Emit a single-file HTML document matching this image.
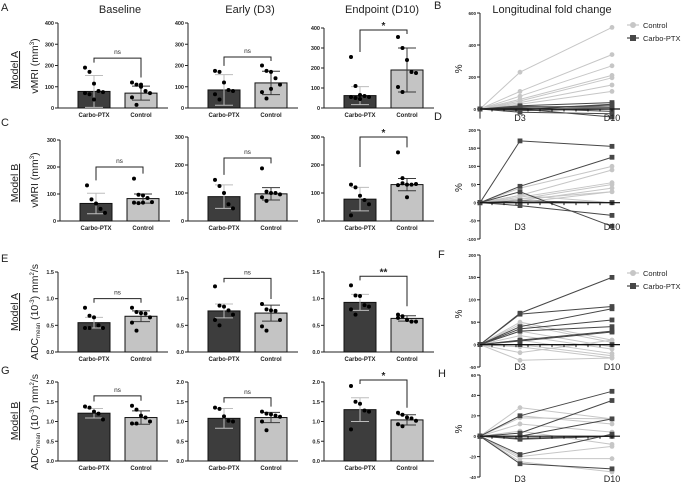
<!DOCTYPE html>
<html><head><meta charset="utf-8"><style>
body{margin:0;background:#fff;}
svg{display:block;font-family:"Liberation Sans",Arial,sans-serif;}
</style></head><body>
<svg id="fig" width="685" height="484" viewBox="0 0 685 484" xmlns="http://www.w3.org/2000/svg">
<g font-size="11" fill="#222">
<text x="1" y="11">A</text>
<text x="1" y="126">C</text>
<text x="1" y="262">E</text>
<text x="1" y="374">G</text>
<text x="434" y="9">B</text>
<text x="434" y="120">D</text>
<text x="438" y="258">F</text>
<text x="438" y="377">H</text>
</g>
<g font-size="11" fill="#222" text-anchor="middle">
<text x="120" y="13">Baseline</text>
<text x="250" y="13">Early (D3)</text>
<text x="382" y="13">Endpoint (D10)</text>
<text x="552" y="13">Longitudinal fold change</text>
</g>
<g fill="#222" font-size="10.5">
<text transform="translate(18,70) rotate(-90)" text-anchor="middle" text-decoration="underline">Model A</text>
<text transform="translate(18,183) rotate(-90)" text-anchor="middle" text-decoration="underline">Model B</text>
<text transform="translate(18,312) rotate(-90)" text-anchor="middle" text-decoration="underline">Model A</text>
<text transform="translate(18,421) rotate(-90)" text-anchor="middle" text-decoration="underline">Model B</text>
<text transform="translate(38,66) rotate(-90)" text-anchor="middle">vMRI (mm<tspan font-size="6" dy="-4">3</tspan><tspan dy="4">)</tspan></text>
<text transform="translate(38,180) rotate(-90)" text-anchor="middle">vMRI (mm<tspan font-size="6" dy="-4">3</tspan><tspan dy="4">)</tspan></text>
<text transform="translate(38,312) rotate(-90)" text-anchor="middle">ADC<tspan font-size="6" dy="2">mean</tspan><tspan dy="-2"> (10</tspan><tspan font-size="6" dy="-4">-3</tspan><tspan dy="4">) mm</tspan><tspan font-size="6" dy="-4">2</tspan><tspan dy="4">/s</tspan></text>
<text transform="translate(38,422) rotate(-90)" text-anchor="middle">ADC<tspan font-size="6" dy="2">mean</tspan><tspan dy="-2"> (10</tspan><tspan font-size="6" dy="-4">-3</tspan><tspan dy="4">) mm</tspan><tspan font-size="6" dy="-4">2</tspan><tspan dy="4">/s</tspan></text>
</g>
</svg>
<script>
// ---- bar chart data ----
const groups = ["Carbo-PTX", "Control"];
const a1Means = [78, 70]; const a1Sd = [75, 33];
const a1Carbo = [190, 170, 115, 80, 75, 70, 65, 40]; const a1Control = [120, 110, 100, 80, 70, 50, 15, 110];
const a2Means = [85, 118]; const a2Sd = [72, 55];
const a2Carbo = [175, 170, 120, 85, 80, 65, 40]; const a2Control = [200, 175, 170, 140, 110, 75, 45, 90];
const a3Means = [62, 190]; const a3Sd = [45, 110];
const a3Carbo = [255, 110, 65, 60, 55, 55, 50, 45]; const a3Control = [355, 300, 240, 180, 175, 105, 80];
const c1Means = [65, 83]; const c1Sd = [38, 17];
const c1Carbo = [132, 80, 65, 45, 30]; const c1Control = [157, 97, 95, 85, 70, 68, 66, 68];
const c2Means = [87, 97]; const c2Sd = [42, 22];
const c2Carbo = [147, 125, 100, 60, 45]; const c2Control = [188, 105, 100, 100, 95, 85, 72];
const c3Means = [78, 130]; const c3Sd = [42, 22];
const c3Carbo = [130, 120, 90, 75, 60, 20]; const c3Control = [245, 153, 130, 130, 132, 128, 135, 85];
const e1Means = [0.55, 0.67]; const e1Sd = [0.1, 0.1];
const e1Carbo = [0.83, 0.68, 0.65, 0.5, 0.45, 0.45, 0.45]; const e1Control = [0.83, 0.75, 0.73, 0.72, 0.65, 0.55, 0.4];
const e2Means = [0.77, 0.73]; const e2Sd = [0.13, 0.15];
const e2Carbo = [1.23, 0.87, 0.85, 0.78, 0.7, 0.6, 0.5]; const e2Control = [0.9, 0.8, 0.78, 0.77, 0.6, 0.48, 0.4];
const e3Means = [0.93, 0.63]; const e3Sd = [0.15, 0.05];
const e3Carbo = [1.25, 1.06, 1.05, 0.88, 0.85, 0.8, 0.7]; const e3Control = [0.7, 0.67, 0.6, 0.57, 0.57, 0.64];
const g1Means = [1.21, 1.1]; const g1Sd = [0.12, 0.17];
const g1Carbo = [1.38, 1.35, 1.25, 1.2, 1.05]; const g1Control = [1.4, 1.3, 1.15, 1.1, 1.0, 0.95, 0.95];
const g2Means = [1.08, 1.1]; const g2Sd = [0.25, 0.13];
const g2Carbo = [1.35, 1.32, 1.13, 1.02, 1.0]; const g2Control = [1.25, 1.2, 1.18, 1.15, 1.12, 1.0, 0.78];
const g3Means = [1.3, 1.04]; const g3Sd = [0.3, 0.13];
const g3Carbo = [1.9, 1.5, 1.45, 1.28, 1.25, 0.8]; const g3Control = [1.22, 1.17, 1.1, 1.08, 1.02, 0.93, 0.88];
const sigLabels = ["ns","ns","*","ns","ns","*","ns","ns","**","ns","ns","*"];
const vmriATicks = [0, 100, 200, 300, 400];
const vmriCTicks = [0, 100, 200, 300];
const adcETicks = [0, 0.5, 1.0, 1.5];
const adcGTicks = [0, 0.5, 1.0, 1.5, 2.0];

// ---- line chart data: [D3, D10] per animal (baseline = 0) ----
const timepoints = ["D3", "D10"];
const bControl = [[230,510],[110,340],[80,270],[60,210],[50,195],[40,150],[30,110],[20,0],[0,30]];
const bCarbo = [[20,40],[10,20],[-10,0],[-20,-30],[0,-50],[15,10],[-5,30],[5,-15]];
const dControl = [[40,100],[20,90],[15,55],[10,50],[5,40],[10,30],[0,30],[20,0]];
const dCarbo = [[170,155],[45,125],[30,-65],[-8,-35],[0,0],[5,0]];
const fControl = [[50,10],[45,5],[30,-5],[20,-10],[10,-20],[0,-25],[-5,-30],[-18,10],[-35,-30]];
const fCarbo = [[70,150],[68,85],[40,80],[35,55],[30,40],[10,30],[8,28],[0,0]];
const hControl = [[28,17],[20,12],[12,4],[5,-8],[-20,-10],[-22,-22],[-25,-35],[18,17]];
const hCarbo = [[20,44],[3,35],[0,17],[-3,0],[-18,2],[-27,-32],[-2,0]];
const bTicks = [0, 200, 400, 600];
const dTicks = [-100, -50, 0, 50, 100, 150, 200];
const fTicks = [-50, 0, 50, 100, 150, 200];
const hTicks = [-40, -20, 0, 20, 40, 60];

const NS = "http://www.w3.org/2000/svg";
const fig = document.getElementById("fig");
function mk(tag, attrs, parent) {
  const e = document.createElementNS(NS, tag);
  for (const k in attrs) e.setAttribute(k, attrs[k]);
  (parent || fig).appendChild(e);
  return e;
}
function fmt(v, dec) { return dec ? v.toFixed(1) : String(v); }

function barPanel(name, ax, yTop, yBot, ticks, means, sds, carbo, control, sig, bracketVal, dec) {
  const g = mk("g", {});
  
  
  const maxV = ticks[ticks.length - 1];
  const ys = v => yBot - (v / maxV) * (yBot - yTop);
  const centers = [ax + 36, ax + 83];
  const yl = mk("line", {x1: ax, y1: yTop, x2: ax, y2: yBot, stroke: "#222", "stroke-width": 1}, g);
  
  
  const xl = mk("line", {x1: ax, y1: yBot, x2: ax + 110, y2: yBot, stroke: "#222", "stroke-width": 1}, g);
  
  
  ticks.forEach(t => {
    const y = ys(t);
    mk("line", {x1: ax - 3, y1: y, x2: ax, y2: y, stroke: "#222", "stroke-width": 1}, g);
    const tl = mk("text", {x: ax - 4, y: y + 2, "font-size": 5.5, "font-weight": "bold", "text-anchor": "end", fill: "#222"}, g);
    tl.textContent = fmt(t, dec);
    
    
  });
  const pts = [carbo, control];
  const fills = ["#3d3d3d", "#c4c4c4"];
  const errCol = ["#bdbdbd", "#3a3a3a"];
  groups.forEach((gn, i) => {
    const c = centers[i];
    const bar = mk("rect", {x: c - 16, y: ys(means[i]), width: 32, height: yBot - ys(means[i]), fill: fills[i], stroke: "#111", "stroke-width": 1}, g);
    
    
    const hi = ys(means[i] + sds[i]), lo = ys(Math.max(0, means[i] - sds[i]));
    mk("line", {x1: c, y1: hi, x2: c, y2: lo, stroke: errCol[i], "stroke-width": 1}, g);
    mk("line", {x1: c - 9, y1: hi, x2: c + 9, y2: hi, stroke: errCol[i], "stroke-width": 1}, g);
    mk("line", {x1: c - 9, y1: lo, x2: c + 9, y2: lo, stroke: errCol[i], "stroke-width": 1}, g);
    pts[i].forEach((v, j) => {
      const dx = ((j % 5) - 2) * 4.5;
      const d = mk("circle", {cx: c + dx, cy: ys(v), r: 2, fill: "#000"}, g);
      
      
    });
    const lab = mk("text", {x: c, y: yBot + 9, "font-size": 6, "font-weight": "bold", "text-anchor": "middle", fill: "#222"}, g);
    lab.textContent = gn;
    
    
  });
  const by = ys(bracketVal);
  const m0 = ys(Math.max(...carbo)) - 5, m1 = ys(Math.max(...control)) - 5;
  const br = mk("path", {d: `M${centers[0]},${Math.max(by + 4, Math.min(m0, by + 30))} V${by} H${centers[1]} V${Math.max(by + 4, Math.min(m1, by + 30))}`, fill: "none", stroke: "#222", "stroke-width": 1}, g);
  
  
  const st = mk("text", {x: (centers[0] + centers[1]) / 2, y: by - 4, "font-size": sig === "ns" ? 6.5 : 10, "font-weight": sig === "ns" ? "normal" : "bold", "text-anchor": "middle", fill: "#222"}, g);
  if (sig !== "ns") st.setAttribute("y", by - 1);
  st.textContent = sig;
  
  
}

barPanel("baseline-model-a-vmri", 58, 23, 108, vmriATicks, a1Means, a1Sd, a1Carbo, a1Control, sigLabels[0], 235, false);
barPanel("early-model-a-vmri", 188, 23, 108, vmriATicks, a2Means, a2Sd, a2Carbo, a2Control, sigLabels[1], 240, false);
barPanel("endpoint-model-a-vmri", 324, 28, 108, vmriATicks, a3Means, a3Sd, a3Carbo, a3Control, sigLabels[2], 390, false);
barPanel("baseline-model-b-vmri", 60, 140, 221, vmriCTicks, c1Means, c1Sd, c1Carbo, c1Control, sigLabels[3], 200, false);
barPanel("early-model-b-vmri", 188, 137, 221, vmriCTicks, c2Means, c2Sd, c2Carbo, c2Control, sigLabels[4], 225, false);
barPanel("endpoint-model-b-vmri", 324, 137, 221, vmriCTicks, c3Means, c3Sd, c3Carbo, c3Control, sigLabels[5], 300, false);
barPanel("baseline-model-a-adc", 58, 272, 352, adcETicks, e1Means, e1Sd, e1Carbo, e1Control, sigLabels[6], 1.0, true);
barPanel("early-model-a-adc", 188, 272, 352, adcETicks, e2Means, e2Sd, e2Carbo, e2Control, sigLabels[7], 1.38, true);
barPanel("endpoint-model-a-adc", 324, 272, 352, adcETicks, e3Means, e3Sd, e3Carbo, e3Control, sigLabels[8], 1.42, true);
barPanel("baseline-model-b-adc", 58, 382, 461, adcGTicks, g1Means, g1Sd, g1Carbo, g1Control, sigLabels[9], 1.65, true);
barPanel("early-model-b-adc", 188, 382, 461, adcGTicks, g2Means, g2Sd, g2Carbo, g2Control, sigLabels[10], 1.6, true);
barPanel("endpoint-model-b-adc", 324, 382, 461, adcGTicks, g3Means, g3Sd, g3Carbo, g3Control, sigLabels[11], 2.05, true);

// tMin/tMax: axis domain; yTopPx/yBotPx: pixel extent of domain
function linePanel(name, ticks, tMin, tMax, yTopPx, yBotPx, control, carbo, legendY, labelY) {
  const g = mk("g", {});
  
  
  const ax = 480, xs = [480, 520, 612];
  const ys = v => yBotPx - (v - tMin) / (tMax - tMin) * (yBotPx - yTopPx);
  const yl = mk("line", {x1: ax, y1: yTopPx, x2: ax, y2: yBotPx, stroke: "#222", "stroke-width": 1}, g);
  
  
  ticks.forEach(t => {
    const y = ys(t);
    mk("line", {x1: ax - 3, y1: y, x2: ax, y2: y, stroke: "#222", "stroke-width": 1}, g);
    const tl = mk("text", {x: ax - 4, y: y + 1.8, "font-size": 4.5, "font-weight": "bold", "text-anchor": "end", fill: "#222"}, g);
    tl.textContent = String(t);
    
    
  });
  const pl = mk("text", {transform: `translate(${ax - 18},${(yTopPx + yBotPx) / 2 + 3}) rotate(-90)`, "font-size": 10, "text-anchor": "middle", fill: "#222"}, g);
  pl.textContent = "%";
  
  
  const series = [[control, "#c6c6c6", "circle", "control"], [carbo, "#474747", "square", "carbo-ptx"]];
  series.forEach(([data, col, shape, sn]) => {
    data.forEach(d => {
      const vals = [0, d[0], d[1]];
      const ln = mk("polyline", {points: vals.map((v, i) => xs[i] + "," + ys(v)).join(" "), fill: "none", stroke: col, "stroke-width": 1}, g);
      
      
      vals.forEach((v, i) => {
        let m;
        if (shape === "circle") m = mk("circle", {cx: xs[i], cy: ys(v), r: 2.4, fill: col}, g);
        else m = mk("rect", {x: xs[i] - 2.4, y: ys(v) - 2.4, width: 4.8, height: 4.8, fill: col}, g);
        
        
      });
    });
  });
  const y0 = ys(0);
  const xl = mk("line", {x1: ax, y1: y0, x2: 620, y2: y0, stroke: "#111", "stroke-width": 1.2}, g);
  
  
  for (let i = 1; i <= 11; i++) {
    const x = ax + i * 12;
    mk("line", {x1: x, y1: y0, x2: x, y2: y0 + 2.5, stroke: "#111", "stroke-width": 1}, g);
  }
  timepoints.forEach((tp, i) => {
    const t = mk("text", {x: xs[i + 1], y: labelY, "font-size": 9, "text-anchor": "middle", fill: "#222"}, g);
    t.textContent = tp;
    
    
  });
  if (legendY !== null) {
    const lg = mk("g", {}, g);
    
    
    [["Control", "#c6c6c6", "circle"], ["Carbo-PTX", "#474747", "square"]].forEach(([lab, col, sh], i) => {
      const y = legendY + i * 13;
      mk("line", {x1: 627, y1: y, x2: 639, y2: y, stroke: col, "stroke-width": 1.2}, lg);
      if (sh === "circle") mk("circle", {cx: 633, cy: y, r: 3, fill: col}, lg);
      else mk("rect", {x: 630, y: y - 3, width: 6, height: 6, fill: col}, lg);
      const t = mk("text", {x: 643, y: y + 3, "font-size": 7.5, fill: "#222"}, lg);
      t.textContent = lab;
      
      
    });
  }
}
linePanel("fold-change-model-a-vmri", bTicks, -60, 600, 13, 118.6, bControl, bCarbo, 25, 121);
linePanel("fold-change-model-b-vmri", dTicks, -100, 200, 130, 239, dControl, dCarbo, null, 230);
linePanel("fold-change-model-a-adc", fTicks, -50, 200, 255, 367, fControl, fCarbo, 273, 370);
linePanel("fold-change-model-b-adc", hTicks, -40, 60, 375, 477, hControl, hCarbo, null, 482);
</script>
</body></html>
